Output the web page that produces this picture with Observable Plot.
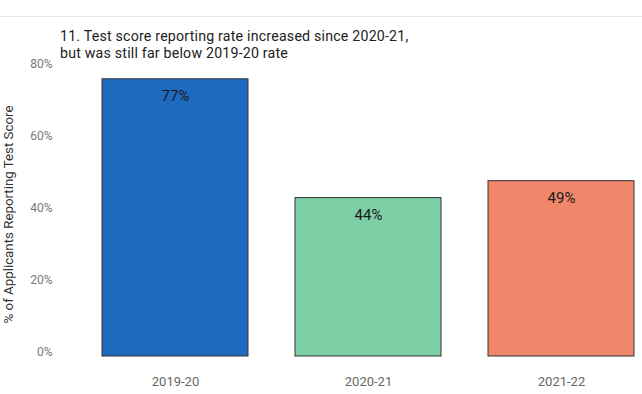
<!DOCTYPE html>
<html>
<head>
<meta charset="utf-8">
<script src="https://cdn.jsdelivr.net/npm/d3@7"></script>
<script src="https://cdn.jsdelivr.net/npm/@observablehq/plot@0.6"></script>
<style>
  body { margin: 0; background: #fff; font-family: Roboto, sans-serif; }
  #wrap { position: relative; width: 642px; height: 394px; overflow: hidden; }
  #sep { position: absolute; left: 0; top: 16px; width: 642px; height: 0; border-top: 1px solid #e6e6e6; }
  .title { position: absolute; left: 60px; font-size: 14.2px; letter-spacing: 0.2px; line-height: 16.5px; height: 16.5px; color: #222; white-space: nowrap; }
  #chart { position: absolute; left: 0; top: 0; }
</style>
</head>
<body>
<div id="wrap">
  <div id="chart"></div>
  <div id="sep"></div>
  <div class="title" style="top:28px">11. Test score reporting rate increased since 2020-21,</div>
  <div class="title" style="top:45px">but was still far below 2019-20 rate</div>
</div>
<script>
const years = ["2019-20", "2020-21", "2021-22"];
const rates = [77, 44, 48.7];
const rateLabels = ["77%", "44%", "49%"];
const colors = ["#1e6abf", "#7dd0a6", "#f0876b"];
const yTicks = [0, 20, 40, 60, 80];
const yLabel = "% of Applicants Reporting Test Score";

const data = years.map((y, i) => ({year: y, rate: rates[i], label: rateLabels[i], color: colors[i]}));

const chart = Plot.plot({
  width: 642,
  height: 394,
  marginTop: 68,
  marginBottom: 38,
  marginLeft: 93,
  marginRight: 0,
  style: {fontFamily: "Roboto, sans-serif", background: "transparent"},
  x: {domain: years, paddingInner: 0.245, paddingOuter: 0.04, label: null},
  y: {domain: [0, 80], label: null},
  marks: [
    Plot.barY(data, {x: "year", y: "rate", fill: "color", stroke: "#333", strokeWidth: 1}),
    Plot.text(data, {x: "year", y: "rate", text: "label", dy: 17, fill: "#1a1a1a", fontSize: 15}),
    Plot.axisY(yTicks, {tickSize: 0, tickPadding: 41, dy: -4, tickFormat: d => d + "%", fontSize: 12, fill: "#777", label: null}),
    Plot.axisX({tickSize: 0, tickPadding: 20, fontSize: 13, fill: "#666", label: null}),
    Plot.text([yLabel], {frameAnchor: "left", textAnchor: "middle", rotate: -90, dx: -85, dy: 2, fontSize: 13.3, fill: "#333"})
  ]
});
document.getElementById("chart").appendChild(chart);
</script>
</body>
</html>
